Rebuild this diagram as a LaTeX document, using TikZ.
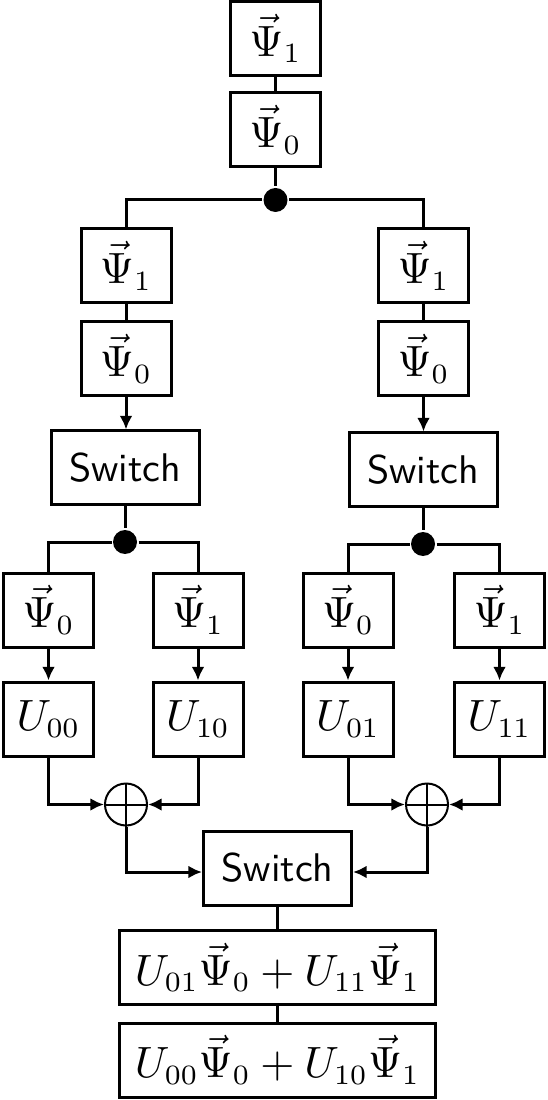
\documentclass[tikz,border=0pt]{standalone}
\usetikzlibrary{arrows.meta}
\begin{document}
\begin{tikzpicture}[x=0.25pt,y=-0.25pt,
  line width=0.75pt,
  mfont/.style={font=\fontsize{10.6}{12}\selectfont},
  box/.style={draw,line width=0.75pt,minimum width=22.5pt,minimum height=18.5pt,inner sep=0pt,mfont},
  swbox/.style={draw,line width=0.75pt,minimum width=37pt,minimum height=18.5pt,inner sep=0pt,font=\sffamily},
  bigbox/.style={draw,line width=0.75pt,minimum width=79pt,minimum height=18.5pt,inner sep=0pt,mfont},
  jdot/.style={circle,fill=black,inner sep=0pt,minimum size=6pt},
  opl/.style={circle,draw,line width=0.5pt,inner sep=0pt,minimum size=10.5pt},
  arr/.style={-{Latex[length=3.4pt,width=3.2pt]}}]
\useasboundingbox (0,0) rectangle (547,1100);
% top
\node[box] (tp1) at (275.5,38.5) {$\vec{\Psi}_1$};
\node[box] (tp0) at (275.5,130) {$\vec{\Psi}_0$};
\node[jdot] (d0) at (275.5,200) {};
% left column
\node[box] (L1) at (126,266) {$\vec{\Psi}_1$};
\node[box] (L0) at (126,359) {$\vec{\Psi}_0$};
\node[swbox] (Lsw) at (125,468) {Switch};
\node[jdot] (Ld) at (125,542) {};
\node[box] (La) at (48.5,610) {$\vec{\Psi}_0$};
\node[box] (Lb) at (198,610) {$\vec{\Psi}_1$};
\node[box] (Ua) at (48.5,719) {$U_{00}$};
\node[box] (Ub) at (198,719) {$U_{10}$};
% right column
\node[box] (R1) at (423.5,266) {$\vec{\Psi}_1$};
\node[box] (R0) at (423.5,359) {$\vec{\Psi}_0$};
\node[swbox] (Rsw) at (423,470) {Switch};
\node[jdot] (Rd) at (423,544) {};
\node[box] (Ra) at (348,610) {$\vec{\Psi}_0$};
\node[box] (Rb) at (499.5,610) {$\vec{\Psi}_1$};
\node[box] (Uc) at (348,719) {$U_{01}$};
\node[box] (Ud) at (499.5,719) {$U_{11}$};
% sums
\node[opl] (opL) at (126,804.5) {};
\node[opl] (opR) at (427,804.5) {};
\draw[line width=0.5pt] (opL.north) -- (opL.south) (opL.west) -- (opL.east);
\draw[line width=0.5pt] (opR.north) -- (opR.south) (opR.west) -- (opR.east);
% bottom
\node[swbox] (bsw) at (277.5,868) {Switch};
\node[bigbox] (bb1) at (277.5,967.5) {$U_{01}\vec{\Psi}_0+U_{11}\vec{\Psi}_1$};
\node[bigbox] (bb2) at (277.5,1060) {$U_{00}\vec{\Psi}_0+U_{10}\vec{\Psi}_1$};
% connectors
\draw (tp1.south) -- (tp0.north);
\draw (tp0.south) -- (d0);
\draw (d0) -| (L1.north);
\draw (d0) -| (R1.north);
\draw (L1.south) -- (L0.north);
\draw (R1.south) -- (R0.north);
\draw[arr] (L0.south) -- (L0.south |- Lsw.north);
\draw[arr] (R0.south) -- (R0.south |- Rsw.north);
\draw (Lsw.south) -- (Ld);
\draw (Rsw.south) -- (Rd);
\draw (Ld) -| (La.north);
\draw (Ld) -| (Lb.north);
\draw (Rd) -| (Ra.north);
\draw (Rd) -| (Rb.north);
\draw[arr] (La.south) -- (Ua.north);
\draw[arr] (Lb.south) -- (Ub.north);
\draw[arr] (Ra.south) -- (Uc.north);
\draw[arr] (Rb.south) -- (Ud.north);
\draw[arr] (Ua.south) |- (opL.west);
\draw[arr] (Ub.south) |- (opL.east);
\draw[arr] (Uc.south) |- (opR.west);
\draw[arr] (Ud.south) |- (opR.east);
\draw[arr] (opL.south) |- ([yshift=-1pt]bsw.west);
\draw[arr] (opR.south) |- ([yshift=-1pt]bsw.east);
\draw (bsw.south) -- (bb1.north);
\draw (bb1.south) -- (bb2.north);
\end{tikzpicture}
\end{document}
